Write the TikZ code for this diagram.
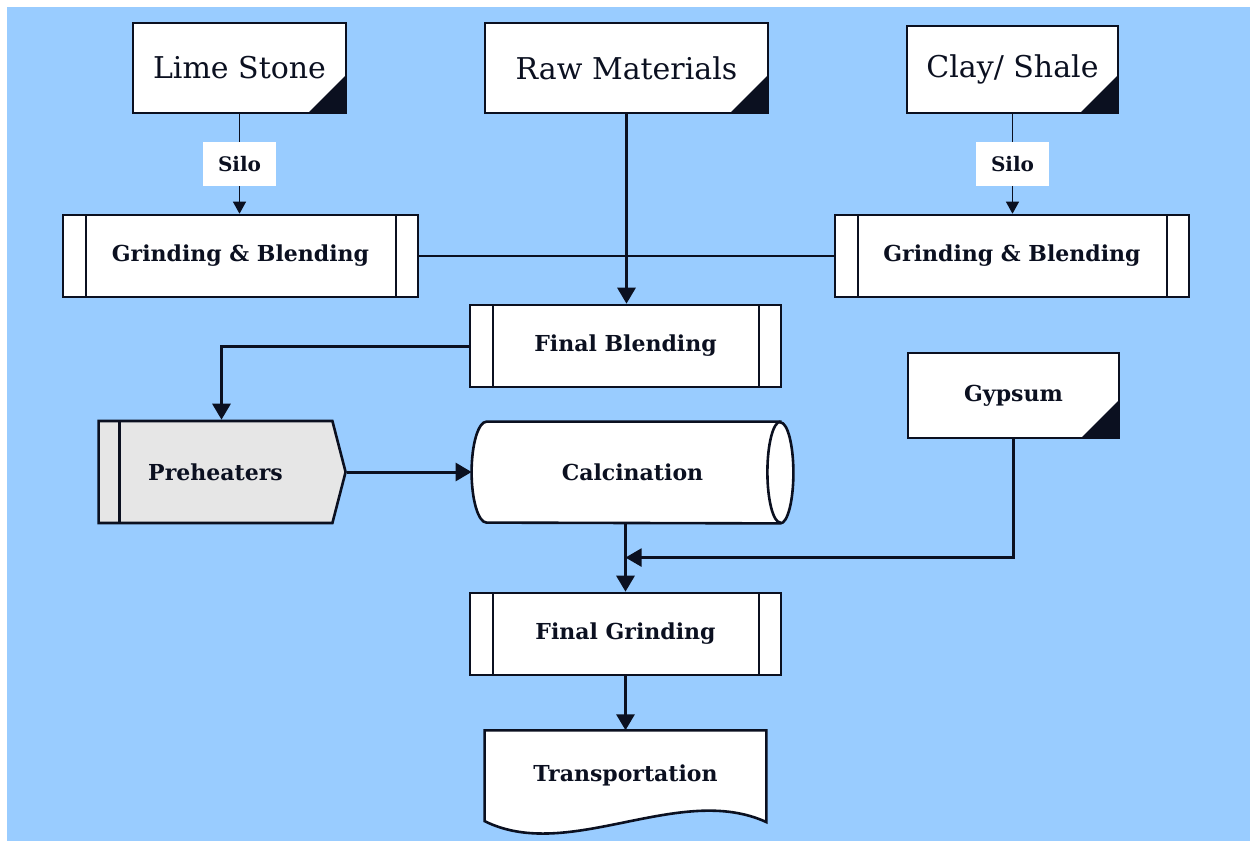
\documentclass[tikz,border=0pt]{standalone}
\usepackage{fontspec}
\setmainfont{DejaVu Serif}
\usetikzlibrary{arrows.meta, positioning, calc, shapes.symbols, backgrounds}
\definecolor{skyback}{HTML}{99CCFF}
\definecolor{inkline}{HTML}{0B1020}
\definecolor{heatgray}{HTML}{E6E6E6}
\tikzset{
  srcbox/.style={draw=inkline, fill=white, line width=1.3pt, minimum height=45pt,
    font=\fontsize{15}{18}\selectfont, text=inkline,
    path picture={\fill[inkline] (path picture bounding box.south east) -- ++(-19pt,0pt) -- ++(19pt,19pt) -- cycle;}},
  procbox/.style={draw=inkline, fill=white, line width=1.3pt, minimum height=41pt,
    font=\bfseries\fontsize{11}{13}\selectfont, text=inkline,
    path picture={\draw[inkline, line width=1.3pt]
      ([xshift=11.5pt]path picture bounding box.north west) -- ([xshift=11.5pt]path picture bounding box.south west)
      ([xshift=-11pt]path picture bounding box.north east) -- ([xshift=-11pt]path picture bounding box.south east);}},
  heatbox/.style={shape=signal, signal to=east, signal from=nowhere, signal pointer angle=151,
    draw=inkline, fill=heatgray, line width=1.3pt, minimum width=123.5pt, minimum height=51pt,
    font=\bfseries\fontsize{11}{13}\selectfont, text=inkline,
    path picture={\draw[inkline, line width=1.3pt]
      ([xshift=10.5pt]path picture bounding box.north west) -- ([xshift=10.5pt]path picture bounding box.south west);}},
  bodytext/.style={font=\bfseries\fontsize{11}{13}\selectfont, text=inkline},
  outline/.style={draw=inkline, fill=white, line width=1.3pt},
  silobox/.style={fill=white, minimum width=36.5pt, minimum height=22pt, inner sep=0pt,
    font=\bfseries\fontsize{10}{12}\selectfont, text=inkline},
  flow/.style={-{Triangle[length=8pt,width=9pt]}, draw=inkline, line width=1.5pt},
  thinflow/.style={-{Triangle[length=6pt,width=6.5pt]}, draw=inkline, line width=0.5pt},
  link/.style={draw=inkline, line width=1.1pt}
}

\begin{document}
\begin{tikzpicture}[x=0.5pt, y=0.5pt]
\begin{scope}[on background layer]
\fill[white] (0,0) rectangle (1250,-841);
\fill[skyback] (7,-7) rectangle (1250,-841);
\end{scope}
\useasboundingbox (0,0) rectangle (1250,-841);

% sources
\node[srcbox, minimum width=106.5pt] (lime) at (239.5,-68) {Lime Stone};
\node[srcbox, minimum width=141.5pt] (raw) at (626.5,-68) {Raw Materials};
\node[srcbox, minimum width=105.5pt, minimum height=43.5pt] (clay) at (1012.5,-69.5) {Clay/ Shale};

% blending
\node[procbox, minimum width=177.5pt] (grindl) at (240.5,-256) {Grinding \& Blending};
\node[procbox, minimum width=177pt] (grindr) at (1012,-256) {Grinding \& Blending};
\node[procbox, minimum width=155.5pt] (fblend) at (625.5,-346) {Final Blending};
\node[srcbox, bodytext, minimum width=105.5pt, minimum height=42.5pt] (gyp) at (1013.5,-395.5) {Gypsum};

% kiln line
\node[heatbox] (pre) at (215.5,-472) {Preheaters};
\node[bodytext, minimum width=160.5pt, minimum height=50.5pt] (calc) at (632.5,-472.5) {Calcination};
\node[procbox, minimum width=155.5pt] (fgrind) at (625.5,-634) {Final Grinding};
\node[bodytext, minimum width=140.5pt, minimum height=45pt, below=27pt of fgrind] (trans) {Transportation};

\begin{scope}[on background layer]
% kiln drum
\draw[outline] ($(calc.north east)+(-13,0)$) -- ($(calc.north west)+(15,0)$)
  arc[start angle=90, end angle=270, x radius=7.5pt, y radius=25.25pt]
  -- ($(calc.south east)+(-13,0)$)
  arc[start angle=-90, end angle=90, x radius=6.5pt, y radius=25.25pt] -- cycle;
\draw[outline, fill=none] ($(calc.north east)+(-13,0)$)
  arc[start angle=90, end angle=270, x radius=6.5pt, y radius=25.25pt];
% document sheet
\draw[outline] (trans.south west) -- (trans.north west) -- (trans.north east) -- ($(trans.south east)+(0,-1)$)
  .. controls ($(trans.south east)+(-87,39)$) and ($(trans.south west)+(84,-42)$) .. (trans.south west) -- cycle;
\end{scope}

\draw[thinflow] (lime.south) -- node[silobox] (silol) {Silo} (lime.south |- grindl.north);
\draw[thinflow] (clay.south) -- node[silobox] (silor) {Silo} (clay.south |- grindr.north);
\draw[link] (grindl) -- (grindr);
\draw[flow] (raw.south) -- (raw.south |- fblend.north);
\draw[flow] (fblend.west) -| ([xshift=3pt]pre.north);
\draw[flow] (pre.east) -- (pre.east -| calc.west);
\coordinate (merge) at ($(fgrind.north |- calc.south)!0.5!(fgrind.north)$);
\draw[flow] (fgrind.north |- calc.south) -- (fgrind.north);
\draw[link, -{Triangle[length=8pt,width=9pt]}] (gyp.south) |- (merge);
\draw[flow] (fgrind) -- (trans);
\end{tikzpicture}
\end{document}
